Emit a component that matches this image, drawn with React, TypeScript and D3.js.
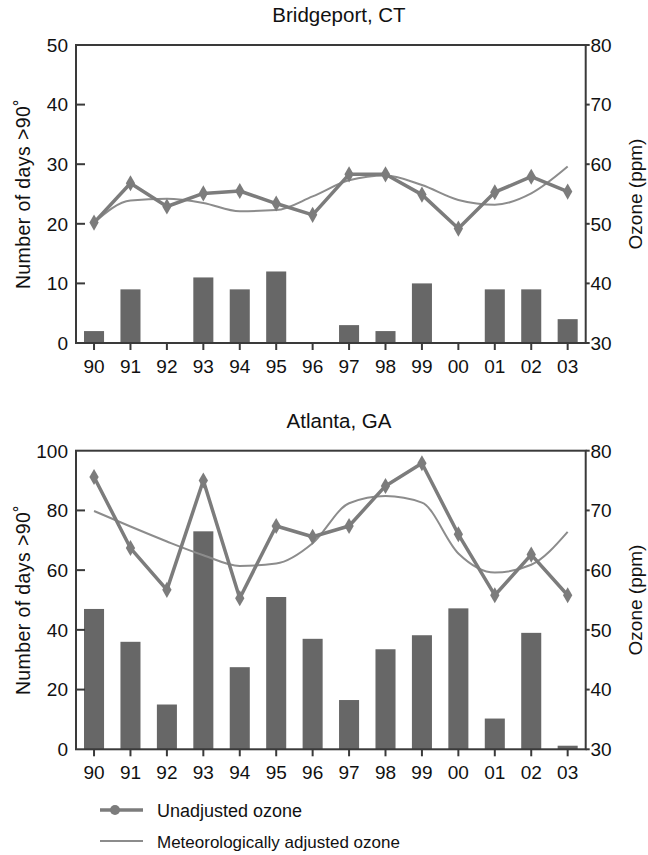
import React from "react";
import * as d3 from "d3";

// Years shown along the x axis
const years = ["90", "91", "92", "93", "94", "95", "96", "97", "98", "99", "00", "01", "02", "03"];

// Bridgeport, CT
const bridgeportDays = [2, 9, 0, 11, 9, 12, 0, 3, 2, 10, 0, 9, 9, 4];
const bridgeportUnadjusted = [50.2, 56.8, 52.9, 55.1, 55.5, 53.4, 51.5, 58.3, 58.3, 54.9, 49.2, 55.3, 57.9, 55.4];
const bridgeportAdjusted = [50.2, 53.9, 54.2, 53.5, 52.1, 52.3, 54.6, 57.3, 58.1, 56.5, 54.0, 53.2, 55.1, 59.6];
const bridgeportDayTicks = [0, 10, 20, 30, 40, 50];

// Atlanta, GA
const atlantaDays = [47, 36, 15, 73, 27.5, 51, 37, 16.5, 33.5, 38.2, 47.2, 10.3, 39, 1.2];
const atlantaUnadjusted = [75.6, 63.7, 56.7, 75.0, 55.3, 67.4, 65.6, 67.4, 74.1, 77.9, 66.0, 55.8, 62.6, 55.8];
const atlantaAdjusted = [69.9, 67.3, 64.8, 62.5, 60.7, 61.1, 64.5, 71.2, 72.4, 71.3, 62.8, 59.6, 60.9, 66.4];
const atlantaDayTicks = [0, 20, 40, 60, 80, 100];

const ozoneTicks = [30, 40, 50, 60, 70, 80];

const FONT = "'Liberation Sans', Arial, Helvetica, sans-serif";
const AXIS = "#3a3a3a";
const BAR = "#676767";
const UNADJ = "#7c7c7c";
const ADJ = "#8c8c8c";
const TEXT = "#111";

const left = 76;
const right = 585.7;

type PanelProps = {
  title: string;
  top: number;
  bottom: number;
  titleY: number;
  days: number[];
  dayMax: number;
  dayTicks: number[];
  unadjusted: number[];
  adjusted: number[];
};

function Panel({ title, top, bottom, titleY, days, dayMax, dayTicks, unadjusted, adjusted }: PanelProps) {
  const x = d3.scaleBand<string>().domain(years).range([left, right]).paddingInner(0.45).paddingOuter(0.22);
  const xc = (i: number) => (x(years[i]) as number) + x.bandwidth() / 2;
  const yDays = d3.scaleLinear().domain([0, dayMax]).range([bottom, top]);
  const yOz = d3.scaleLinear().domain([30, 80]).range([bottom, top]);

  const unadjLine = d3
    .line<number>()
    .x((_, i) => xc(i))
    .y((d) => yOz(d));
  const adjLine = d3
    .line<number>()
    .x((_, i) => xc(i))
    .y((d) => yOz(d))
    .curve(d3.curveMonotoneX);

  const diamond = d3.symbol().type(d3.symbolDiamond).size(75)() as string;
  const midY = (top + bottom) / 2;

  return (
    <g>
      <text x={339} y={titleY} textAnchor="middle" fontSize={20.5} fill={TEXT} fontFamily={FONT}>
        {title}
      </text>

      {/* bars: days above 90 degrees */}
      {days.map((d, i) => (
        <rect
          key={"b" + i}
          x={x(years[i])}
          y={yDays(d)}
          width={x.bandwidth()}
          height={bottom - yDays(d)}
          fill={BAR}
        />
      ))}

      {/* adjusted ozone */}
      <path d={adjLine(adjusted) as string} fill="none" stroke={ADJ} strokeWidth={2} />
      {/* unadjusted ozone */}
      <path d={unadjLine(unadjusted) as string} fill="none" stroke={UNADJ} strokeWidth={3.5} strokeLinejoin="round" />
      {unadjusted.map((d, i) => (
        <path key={"m" + i} d={diamond} transform={`translate(${xc(i)},${yOz(d)})`} fill={UNADJ} />
      ))}

      {/* frame */}
      <rect x={left} y={top} width={right - left} height={bottom - top} fill="none" stroke={AXIS} strokeWidth={2} />

      {/* left axis */}
      {dayTicks.map((t) => (
        <g key={"l" + t}>
          {t !== dayMax && t !== 0 && (
            <line x1={left} x2={left + 9} y1={yDays(t)} y2={yDays(t)} stroke={AXIS} strokeWidth={2} />
          )}
          <text x={68} y={yDays(t)} dy="0.36em" textAnchor="end" fontSize={19} fill={TEXT} fontFamily={FONT}>
            {t}
          </text>
        </g>
      ))}

      {/* right axis */}
      {ozoneTicks.map((t) => (
        <g key={"r" + t}>
          <line x1={right} x2={right + 4} y1={yOz(t)} y2={yOz(t)} stroke={AXIS} strokeWidth={2} />
          <text x={590.5} y={yOz(t)} dy="0.36em" textAnchor="start" fontSize={19} fill={TEXT} fontFamily={FONT}>
            {t}
          </text>
        </g>
      ))}

      {/* x axis */}
      {years.map((yr, i) => (
        <g key={"x" + yr}>
          <line x1={xc(i)} x2={xc(i)} y1={bottom} y2={bottom + 7} stroke={AXIS} strokeWidth={2} />
          <text x={xc(i)} y={bottom + 30} textAnchor="middle" fontSize={19} fill={TEXT} fontFamily={FONT}>
            {yr}
          </text>
        </g>
      ))}

      <text
        transform={`translate(23,${midY}) rotate(-90)`}
        textAnchor="middle"
        dy="0.36em"
        fontSize={19.5}
        letterSpacing={0.4}
        fill={TEXT}
        fontFamily={FONT}
      >
        Number of days &gt;90˚
      </text>
      <text
        transform={`translate(635,${midY}) rotate(-90)`}
        textAnchor="middle"
        dy="0.36em"
        fontSize={19}
        fill={TEXT}
        fontFamily={FONT}
      >
        Ozone (ppm)
      </text>
    </g>
  );
}

export default function App() {
  return (
    <svg width={648} height={855} style={{ position: "absolute", left: 0, top: 0, background: "#fff" }}>
      <rect width={648} height={855} fill="#fff" />
      <Panel
        title="Bridgeport, CT"
        top={45}
        bottom={343}
        titleY={21.5}
        days={bridgeportDays}
        dayMax={50}
        dayTicks={bridgeportDayTicks}
        unadjusted={bridgeportUnadjusted}
        adjusted={bridgeportAdjusted}
      />
      <Panel
        title="Atlanta, GA"
        top={450.7}
        bottom={749.3}
        titleY={428.3}
        days={atlantaDays}
        dayMax={100}
        dayTicks={atlantaDayTicks}
        unadjusted={atlantaUnadjusted}
        adjusted={atlantaAdjusted}
      />

      {/* legend */}
      <line x1={100} x2={143} y1={810} y2={810} stroke={UNADJ} strokeWidth={3.5} />
      <circle cx={115} cy={810} r={5} fill={UNADJ} />
      <text x={157} y={816.5} fontSize={18} fill={TEXT} fontFamily={FONT}>
        Unadjusted ozone
      </text>
      <line x1={100} x2={143} y1={841} y2={841} stroke={ADJ} strokeWidth={2} />
      <text x={157} y={848} fontSize={17} fill={TEXT} fontFamily={FONT}>
        Meteorologically adjusted ozone
      </text>
    </svg>
  );
}
